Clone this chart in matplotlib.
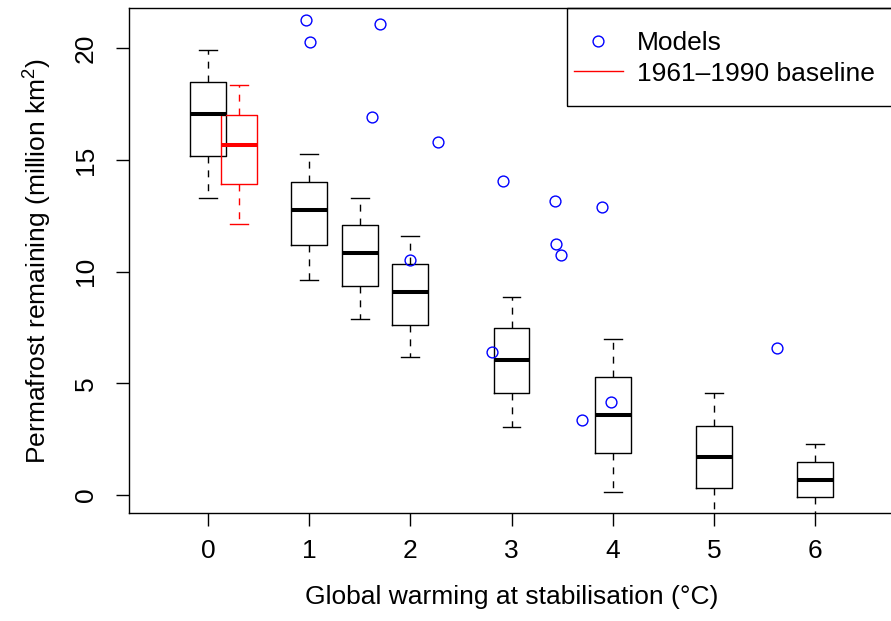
import matplotlib
matplotlib.use("Agg")
import matplotlib.pyplot as plt
from matplotlib.lines import Line2D
from matplotlib.patches import Rectangle

plt.rcParams['font.family'] = ['Liberation Sans', 'DejaVu Sans']
plt.rcParams['mathtext.fontset'] = 'custom'
plt.rcParams['mathtext.rm'] = 'Liberation Sans'
plt.rcParams['mathtext.it'] = 'Liberation Sans:italic'

# Box summaries (million km2) per warming level
warming = [0, 1, 1.5, 2, 3, 4, 5, 6]
whis_lo = [13.31, 9.63, 7.88, 6.19, 3.05, 0.13, -1.5, -1.5]
q1 = [15.19, 11.20, 9.37, 7.63, 4.55, 1.87, 0.30, -0.09]
median = [17.05, 12.78, 10.85, 9.08, 6.06, 3.60, 1.70, 0.69]
q3 = [18.50, 14.02, 12.08, 10.33, 7.47, 5.30, 3.10, 1.49]
whis_hi = [19.91, 15.26, 13.30, 11.60, 8.87, 7.00, 4.55, 2.28]

# 1961-1990 baseline box
base_pos = 0.31
base_stats = [12.15, 13.91, 15.67, 17.02, 18.36]  # whislo, q1, med, q3, whishi

# individual models
model_x = [0.97, 1.01, 1.70, 1.62, 2.27, 2.00, 2.92, 3.43, 3.89, 3.44, 3.49, 2.81, 3.70, 3.98, 5.62]
model_y = [21.27, 20.27, 21.09, 16.94, 15.82, 10.51, 14.06, 13.17, 12.91, 11.23, 10.75, 6.39, 3.37, 4.16, 6.60]

FS = 19

fig = plt.figure(figsize=(8.91, 6.21), dpi=100)
ax = fig.add_axes([129 / 891, 1 - 513.3 / 621, (894 - 129) / 891, (513.3 - 8.3) / 621])

stats = []
for lo, a, m, b, hi in zip(whis_lo, q1, median, q3, whis_hi):
    stats.append(dict(whislo=lo, q1=a, med=m, q3=b, whishi=hi, fliers=[]))


def draw_boxes(stats, positions, color):
    ax.bxp(stats, positions=positions, widths=0.355, showfliers=False,
           boxprops=dict(color=color, linewidth=1.0),
           medianprops=dict(color=color, linewidth=2.9, solid_capstyle='butt'),
           whiskerprops=dict(color=color, linewidth=1.0, linestyle=(0, (5, 5))),
           capprops=dict(color=color, linewidth=1.0),
           manage_ticks=False)


draw_boxes(stats, warming, 'black')
lo, a, m, b, hi = base_stats
draw_boxes([dict(whislo=lo, q1=a, med=m, q3=b, whishi=hi, fliers=[])], [base_pos], 'red')

ax.plot(model_x, model_y, 'o', mfc='none', mec='blue', ms=7.8, mew=1.0, zorder=5)

ax.set_xlim(-0.78, 6.78)
ax.set_ylim(-0.82, 21.8)
ax.set_xticks(range(0, 7))
ax.set_xticklabels([str(i) for i in range(0, 7)], fontsize=FS)
ax.set_yticks([0, 5, 10, 15, 20])
ax.set_yticklabels(['0', '5', '10', '15', '20'], fontsize=FS, rotation=90, va='center')
ax.tick_params(axis='both', length=9.5, width=1.0, direction='out')
ax.tick_params(axis='x', pad=9)
ax.tick_params(axis='y', pad=13)
for s in ax.spines.values():
    s.set_linewidth(1.0)

ax.set_xlabel('Global warming at stabilisation (°C)', fontsize=FS, labelpad=16)
ax.set_ylabel('Permafrost remaining (million km$^2$)', fontsize=FS, labelpad=14)

# legend: frame drawn separately so the padding follows the original
ax.add_patch(Rectangle((0.5725, 0.8065), 0.4275, 0.1935, transform=ax.transAxes,
                       fill=False, edgecolor='black', linewidth=1.0, clip_on=False, zorder=6))
handles = [Line2D([], [], marker='o', ls='none', mfc='none', mec='blue', ms=7.8, mew=1.0),
           Line2D([], [], color='red', lw=1.0)]
leg = ax.legend(handles, ['Models', '1961\u20131990 baseline'], loc='upper left',
                bbox_to_anchor=(0.5817, 0.955), fontsize=FS, frameon=False,
                borderaxespad=0, borderpad=0, handlelength=1.85, handletextpad=0.55,
                labelspacing=0.25)

fig.savefig('out.png', dpi=100)
